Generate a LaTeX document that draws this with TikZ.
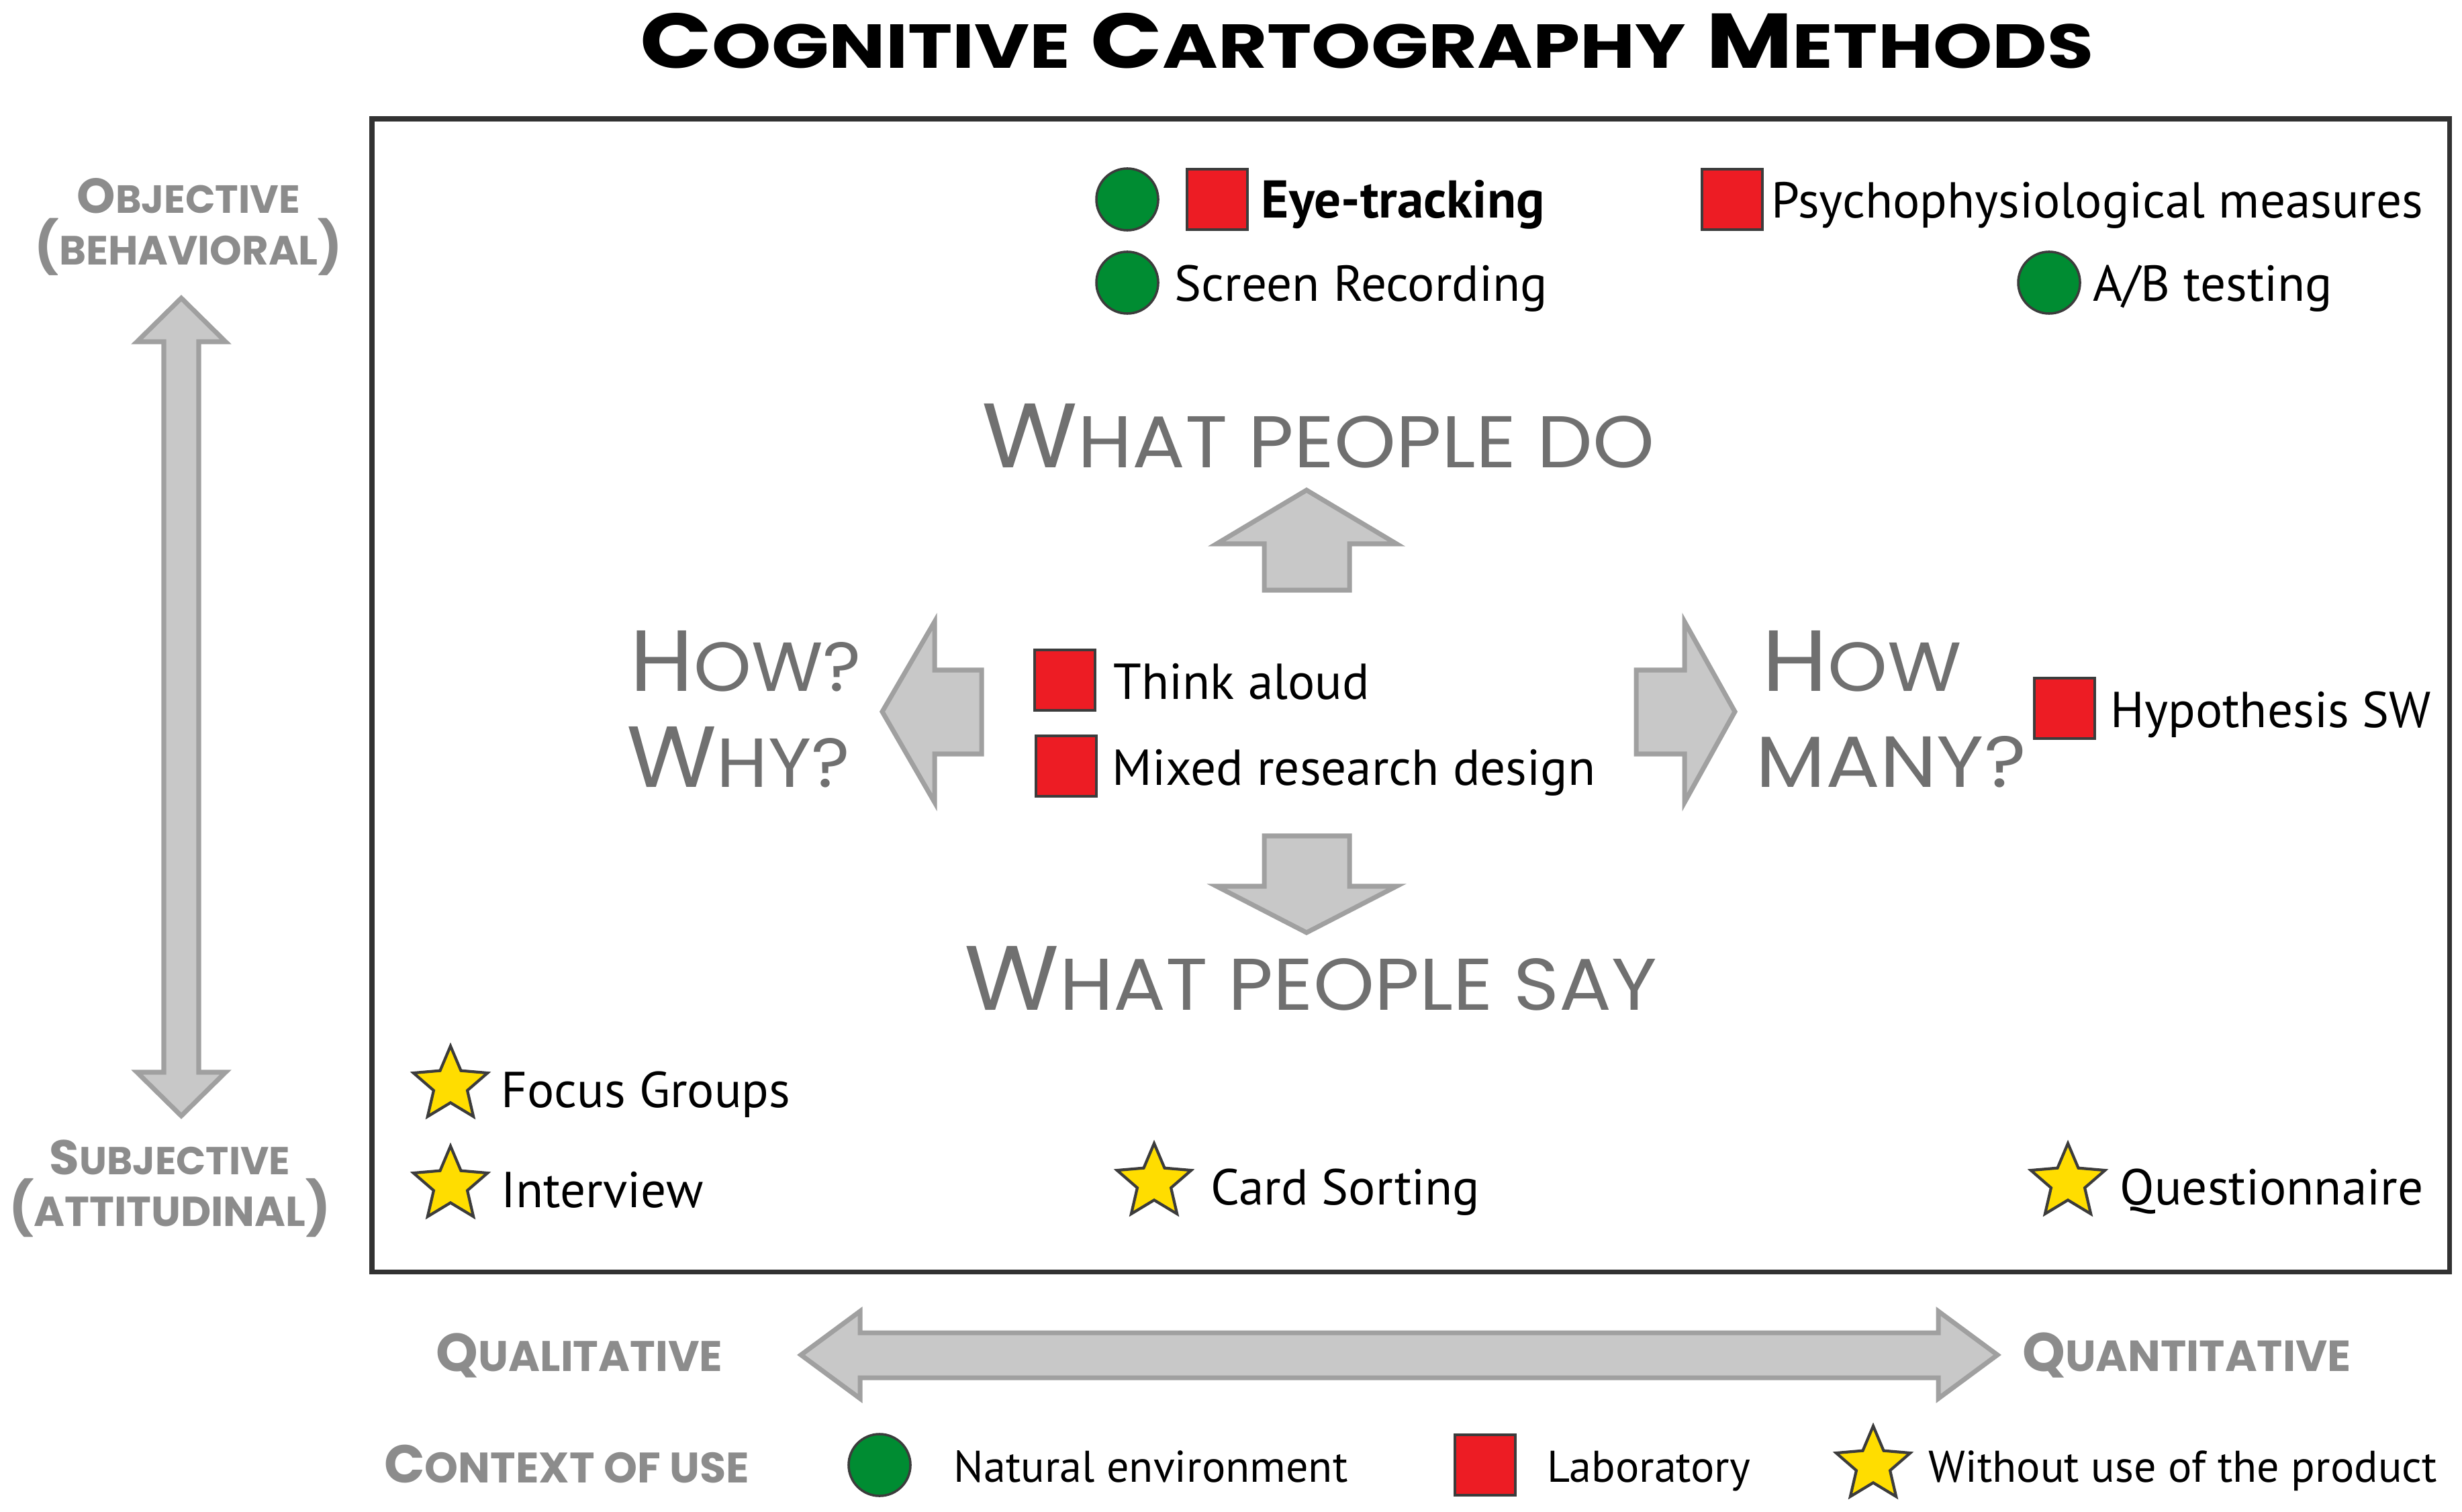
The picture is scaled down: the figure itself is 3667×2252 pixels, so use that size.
\documentclass[tikz,border=0pt]{standalone}
\usepackage{fontspec}
\usepackage{graphicx}
\setmainfont{PT Sans}
\newfontfamily\titlefont{Poppins}
\usetikzlibrary{shapes.geometric}
\definecolor{mgreen}{RGB}{0,140,50}
\definecolor{mred}{RGB}{237,28,36}
\definecolor{mstar}{RGB}{255,221,0}
\definecolor{mborder}{RGB}{60,60,60}
\definecolor{afill}{RGB}{200,200,200}
\definecolor{aedge}{RGB}{160,160,160}
\definecolor{lgray}{RGB}{140,140,140}
\definecolor{bgray}{RGB}{112,112,112}
\definecolor{frame}{RGB}{50,50,50}
\newcommand\fsc[2]{#1\scalebox{0.8}{#2}}
\tikzset{
  gdot/.style={circle, fill=mgreen, draw=mborder, line width=1pt, minimum size=0.92cm, inner sep=0},
  rsq/.style={rectangle, fill=mred, draw=mborder, line width=1pt, minimum size=0.9cm, inner sep=0},
  ystar/.style={star, star points=5, star point ratio=2.2, fill=mstar, draw=mborder, line width=1.2pt, minimum size=1.16cm, inner sep=0},
  lbl/.style={anchor=base west, inner sep=0, font=\fontsize{21.4}{25}\selectfont},
  lblb/.style={anchor=base west, inner sep=0, font=\fontsize{22.5}{26}\selectfont\bfseries},
  leg/.style={anchor=base west, inner sep=0, font=\fontsize{18.8}{22}\selectfont},
  garrow/.style={fill=afill, draw=aedge, line width=2pt, line join=miter},
  glabel/.style={anchor=base, inner sep=0, text=lgray, font=\titlefont\bfseries},
  biglabel/.style={anchor=base west, inner sep=0, text=bgray, font=\titlefont},
}
\begin{document}
\begin{tikzpicture}[x=0.01cm, y=-0.01cm]
\useasboundingbox (0,0) rectangle (3667,2252);
% title
\node[anchor=base, inner sep=0, font=\titlefont\bfseries] (title) at (2036,102)
  {\resizebox{21.63cm}{0.82cm}{\fsc{C}{OGNITIVE} \fsc{C}{ARTOGRAPHY} \fsc{M}{ETHODS}}};
% frame
\draw[line width=2pt, draw=frame] (554,177) rectangle (3648,1894);
% vertical double arrow
\draw[garrow] (270,444) -- (336,509) -- (296,509) -- (296,1597) -- (336,1597) -- (270,1662)
  -- (204,1597) -- (244,1597) -- (244,509) -- (204,509) -- cycle;
% horizontal double arrow
\draw[garrow] (1193,2018) -- (1281,1953) -- (1281,1985) -- (2887,1985) -- (2887,1953) -- (2975,2018)
  -- (2887,2083) -- (2887,2052) -- (1281,2052) -- (1281,2083) -- cycle;
% up arrow
\draw[garrow] (1946,730) -- (2080,810) -- (2010,810) -- (2010,879) -- (1883,879) -- (1883,810) -- (1812,810) -- cycle;
% down arrow
\draw[garrow] (1883,1245) -- (2010,1245) -- (2010,1320) -- (2080,1320) -- (1946,1389) -- (1812,1320) -- (1883,1320) -- cycle;
% left arrow
\draw[garrow] (1314,1060) -- (1392,926) -- (1392,998) -- (1462,998) -- (1462,1123) -- (1392,1123) -- (1392,1195) -- cycle;
% right arrow
\draw[garrow] (2437,998) -- (2509,998) -- (2509,926) -- (2584,1060) -- (2509,1195) -- (2509,1123) -- (2437,1123) -- cycle;
% side labels
\node[glabel] (ob1) at (281,318) {\resizebox{3.32cm}{!}{\fsc{O}{BJECTIVE}}};
\node[glabel] (ob2) at (281,395) {\resizebox{4.58cm}{!}{(\scalebox{0.8}{BEHAVIORAL})}};
\node[glabel] (sb1) at (253,1749) {\resizebox{3.58cm}{!}{\fsc{S}{UBJECTIVE}}};
\node[glabel] (sb2) at (253,1826) {\resizebox{4.79cm}{!}{(\scalebox{0.8}{ATTITUDINAL})}};
\node[glabel] (ql) at (863,2042) {\resizebox{4.26cm}{!}{\fsc{Q}{UALITATIVE}}};
\node[glabel] (qn) at (3257,2042) {\resizebox{4.89cm}{!}{\fsc{Q}{UANTITATIVE}}};
\node[glabel] (ctx) at (844,2208) {\resizebox{5.43cm}{!}{\fsc{C}{ONTEXT OF USE}}};
% big labels
\node[biglabel] (wd) at (1462,697) {\resizebox{10.01cm}{0.95cm}{\fsc{W}{HAT PEOPLE DO}}};
\node[biglabel] (ws) at (1436,1504) {\resizebox{10.31cm}{0.95cm}{\fsc{W}{HAT PEOPLE SAY}}};
\node[biglabel] (how) at (938,1029) {\resizebox{3.44cm}{0.9cm}{\fsc{H}{OW?}}};
\node[biglabel] (why) at (933,1172) {\resizebox{3.32cm}{0.9cm}{\fsc{W}{HY?}}};
\node[biglabel] (how2) at (2624,1029) {\resizebox{2.97cm}{0.9cm}{\fsc{H}{OW}}};
\node[biglabel] (many) at (2615,1172) {\resizebox{4.02cm}{0.76cm}{MANY?}};
% top methods
\node[gdot] (et1) at (1679,297) {};
\node[rsq] (et2) at (1813,297) {};
\node[lblb] (et) at (1878,325) {Eye-tracking};
\node[rsq] (pp1) at (2580,297) {};
\node[lbl] (pp) at (2638,325) {Psychophysiological measures};
\node[gdot] (sr1) at (1679,421) {};
\node[lbl] (sr) at (1749,449) {Screen Recording};
\node[gdot] (ab1) at (3052,421) {};
\node[lbl] (ab) at (3117,449) {A/B testing};
% middle methods
\node[rsq] (ta1) at (1586,1013) {};
\node[lbl] (ta) at (1658,1041) {Think aloud};
\node[rsq] (mr1) at (1588,1141) {};
\node[lbl] (mr) at (1656,1169) {Mixed research design};
\node[rsq] (hs1) at (3075,1055) {};
\node[lbl] (hs) at (3143,1083) {Hypothesis SW};
% bottom methods
\node[ystar] (fg1) at (671,1616) {};
\node[lbl] (fg) at (746,1649) {Focus Groups};
\node[ystar] (iv1) at (671,1765) {};
\node[lbl] (iv) at (746,1798) {Interview};
\node[ystar] (cs1) at (1719,1761) {};
\node[lbl] (cs) at (1803,1794) {Card Sorting};
\node[ystar] (qq1) at (3080,1761) {};
\node[lbl] (qq) at (3157,1794) {Questionnaire};
% legend
\node[gdot] (lg1) at (1310,2182) {};
\node[leg] (lgt1) at (1420,2207) {Natural environment};
\node[rsq] (lg2) at (2212,2182) {};
\node[leg] (lgt2) at (2304,2207) {Laboratory};
\node[ystar] (lg3) at (2790,2182) {};
\node[leg] (lgt3) at (2872,2207) {Without use of the product};
\end{tikzpicture}
\end{document}
